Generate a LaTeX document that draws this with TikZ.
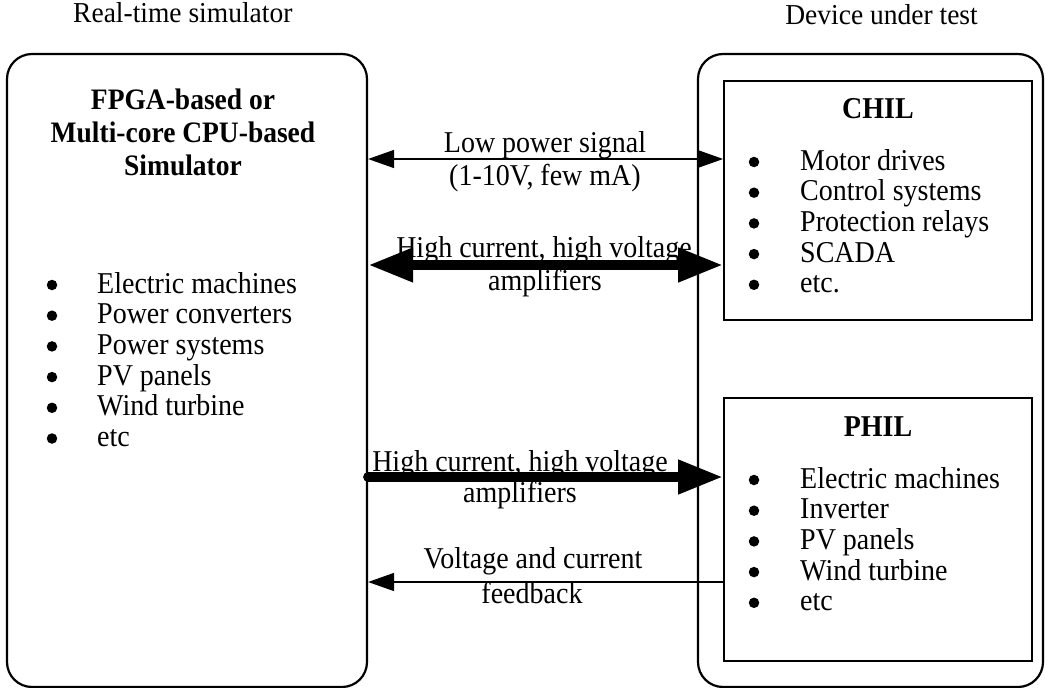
\documentclass[tikz,border=0pt]{standalone}
\usepackage{fontspec}
\setmainfont{Liberation Serif}
\usetikzlibrary{arrows.meta}

\begin{document}
\begin{tikzpicture}[x=1pt,y=-1pt,
  outerbox/.style={draw, line width=2.2pt, rounded corners=25pt, inner sep=0pt},
  innerbox/.style={draw, line width=1.7pt, inner sep=0pt},
  txt/.style={font=\fontsize{28}{30}\selectfont, inner sep=0pt, anchor=base, yscale=1.08},
  item/.style={font=\fontsize{28}{30}\selectfont, inner sep=0pt, anchor=base west, yscale=1.08},
  bul/.style={circle, fill, inner sep=0pt, minimum size=10.5pt},
  heading/.style={font=\fontsize{27.5}{30}\selectfont, inner sep=0pt, yscale=1.05},
  thinarrow/.style={line width=1.5pt, -{Triangle[length=26pt,width=18pt]}},
  thickarrow/.style={line width=10pt, -{Triangle[length=45pt,width=32pt]}}
]
\useasboundingbox (0,0) rectangle (1045,688);

% headings above the two sides
\node[heading, anchor=base west] (hsim) at (73,23) {Real-time simulator};
\node[heading, anchor=base east] (hdut) at (978,24) {Device under test};

% main frames
\node[outerbox, minimum width=360pt, minimum height=633pt] (sim) at (187,370.5) {};
\node[outerbox, minimum width=345pt, minimum height=633pt] (dut) at (870.5,370.5) {};
\node[innerbox, minimum width=308pt, minimum height=239pt] (chil) at (878,200.5) {};
\node[innerbox, minimum width=308pt, minimum height=263pt] (phil) at (878,529.5) {};

% simulator contents
\node[txt, font=\fontsize{27.5}{30.5}\selectfont\bfseries, align=center, anchor=north]
  (simtitle) at (183,89) {FPGA-based or\\Multi-core CPU-based\\Simulator};
\foreach \t [count=\i from 0] in {Electric machines, Power converters, Power systems, PV panels, Wind turbine, etc}{
  \node[bul] (sb\i) at (52,285+30.7*\i) {};
  \node[item] (si\i) at (97,293+30.7*\i) {\t};
}

% CHIL contents
\node[txt, font=\fontsize{28}{30}\selectfont\bfseries] (chiltitle) at (878,118) {CHIL};
\foreach \t [count=\i from 0] in {Motor drives, Control systems, Protection relays, SCADA, etc.}{
  \node[bul] (cb\i) at (754,162+30.7*\i) {};
  \node[item] (ci\i) at (800,170+30.7*\i) {\t};
}

% PHIL contents
\node[txt, font=\fontsize{28}{30}\selectfont\bfseries] (philtitle) at (878,436) {PHIL};
\foreach \t [count=\i from 0] in {Electric machines, Inverter, PV panels, Wind turbine, etc}{
  \node[bul] (pb\i) at (754,480+30.7*\i) {};
  \node[item] (pi\i) at (800,488+30.7*\i) {\t};
}

% levels of the four links
\coordinate (l1) at (0,159);
\coordinate (l2) at (0,265);
\coordinate (l3) at (0,477);
\coordinate (l4) at (0,582);

% links
\draw[thinarrow, {Triangle[length=26pt,width=18pt]}-{Triangle[length=26pt,width=18pt]}]
  (sim.east |- l1) -- (chil.west |- l1);
\draw[thickarrow, {Triangle[length=45pt,width=32pt]}-{Triangle[length=45pt,width=32pt]}]
  (sim.east |- l2) -- (chil.west |- l2);
\draw[thickarrow, line cap=round] (sim.east |- l3) -- (phil.west |- l3);
\draw[thinarrow] (phil.west |- l4) -- (sim.east |- l4);

% link labels
\node[txt] (lp1) at (545,152) {Low power signal};
\node[txt] (lp2) at (545,185) {(1-10V, few mA)};
\node[txt] (ha1) at (544,257) {High current, high voltage};
\node[txt] (ha2) at (545,290) {amplifiers};
\node[txt] (hb1) at (520,471) {High current, high voltage};
\node[txt] (hb2) at (520,502) {amplifiers};
\node[txt] (fb1) at (533,568) {Voltage and current};
\node[txt] (fb2) at (532,603) {feedback};
\end{tikzpicture}
\end{document}
